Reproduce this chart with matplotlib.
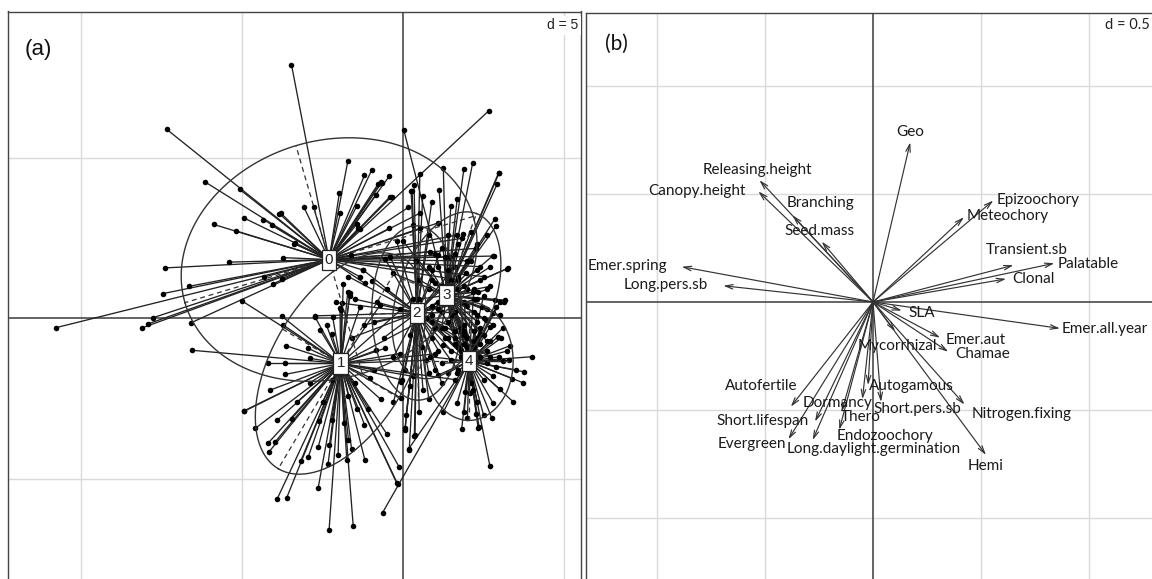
import matplotlib
matplotlib.use("Agg")
import matplotlib.pyplot as plt
import numpy as np
from matplotlib.collections import LineCollection

# ---------------- data: panel (a) ----------------
group_labels = ["0", "1", "2", "3", "4"]
group_centers = [(-2.30, 1.83), (-1.94, -1.40), (0.43, 0.17), (1.35, 0.72), (2.05, -1.33)]

g0_pts = [(-3.47, 7.89), (-7.35, 5.88), (-6.15, 4.24), (-5.08, 4.01), (-5.88, 2.92), (-5.19, 2.72),
          (-4.94, 3.12), (-4.34, 3.07), (-4.08, 2.89), (-3.85, 3.26), (-3.39, 2.32), (-3.73, 1.89),
          (-5.42, 1.75), (-7.41, 1.57), (-6.64, 1.00), (-7.47, 0.77), (-10.80, -0.29), (-8.10, -0.29),
          (-7.93, -0.17), (-7.78, 0.02), (-6.58, -0.13), (-4.31, 1.29), (-4.04, 1.08), (-3.08, 3.45),
          (-2.78, 3.45), (-1.72, 4.88), (-1.98, 3.90), (-1.95, 3.27), (-1.20, 4.45), (-0.98, 4.60),
          (-0.77, 4.19), (-0.69, 4.25), (-0.43, 4.42), (-0.83, 3.85), (-0.40, 3.79), (-1.43, 2.95),
          (-1.35, 2.78), (2.82, 1.94), (2.67, 6.46), (-3.36, 2.33), (-3.77, 1.24), (-3.80, 3.27),
          (-1.44, 3.49), (-1.24, 1.50), (-1.34, 1.29), (-1.19, 1.09), (-1.39, 2.80), (-0.43, 2.80),
          (-1.63, 1.97), (-0.36, 3.78), (-0.67, 4.22), (0.16, 3.45), (0.52, 3.27), (1.09, 2.97),
          (1.66, 2.59), (1.82, 2.49), (0.52, 2.80), (0.83, 2.07), (1.09, 1.97), (2.28, 2.18),
          (2.12, 1.79), (2.39, 1.61), (1.45, 1.92), (0.90, 1.50), (1.70, 1.20), (2.50, 1.30)]

g1_pts = [(-2.30, -6.57), (-1.55, -6.46), (-3.91, -5.60), (-3.62, -5.58), (-2.64, -5.27), (-0.20, -5.11),
          (-0.12, -4.62), (-1.19, -4.39), (-1.75, -4.39), (-2.02, -4.25), (-2.33, -4.51), (-1.60, -4.07),
          (-1.70, -3.77), (-1.84, -3.25), (-2.22, -3.16), (-2.29, -3.94), (-2.64, -4.00), (-2.95, -4.31),
          (-3.18, -4.43), (-3.46, -3.11), (-3.91, -3.16), (-4.19, -3.87), (-4.17, -4.15), (-3.98, -3.84),
          (-4.60, -3.42), (-4.14, -2.23), (-4.93, -2.88), (-3.64, -0.85), (-3.72, -0.21), (-3.77, 0.07),
          (-4.19, -1.40), (-3.67, -1.74), (-3.67, -1.40), (-2.89, -1.24), (-2.95, -0.93), (-2.74, 0.05),
          (-0.70, -2.51), (-1.08, -2.80), (-1.03, -1.84), (-1.44, -2.80), (-0.07, -2.47), (-0.02, -1.92),
          (-0.10, -1.09), (-0.57, -0.93), (-0.84, -0.99), (-6.55, -0.99), (-5.00, 0.54), (-4.94, -2.87),
          (-0.17, -5.15), (-2.38, -0.21), (-2.22, -0.47), (-2.58, -0.36), (-1.96, 0.31), (-1.34, 0.36),
          (-0.72, 0.41), (-1.91, 0.47), (-1.94, 0.26), (-2.19, 0.05), (-1.86, 1.07), (-1.65, 0.78),
          (-1.72, 0.83), (-1.66, 0.71), (0.90, 0.10), (0.30, 0.60), (1.00, -1.10), (0.70, -1.30),
          (1.60, -1.90), (-2.50, -2.60), (-1.50, -2.00), (-2.90, -2.00), (-3.30, -2.60), (-1.20, -3.30),
          (-0.50, -3.60), (0.30, -1.80), (-0.90, -1.60), (-2.20, -1.90), (-1.70, -2.40), (-2.60, -3.20)]

g2_pts = [(0.52, 4.50), (0.34, 4.16), (0.25, 3.95), (0.28, 3.97), (0.61, 3.81), (0.89, 3.63),
          (-0.57, 1.86), (-1.26, 1.52), (-0.98, 1.17), (-2.75, 0.08), (0.06, -3.48), (0.35, -3.65),
          (0.37, -3.63), (0.06, -3.42), (0.19, -4.08), (0.06, -1.59), (0.62, -2.23), (-0.05, -1.97),
          (-0.50, 0.90), (-0.80, 0.50), (-1.20, -0.20), (-0.60, -0.60), (-0.30, -1.20), (0.20, -2.10),
          (0.80, -2.50), (1.00, -1.60), (1.50, -1.00), (1.90, -0.40), (2.20, 0.20), (2.00, 0.90),
          (1.60, 1.60), (1.20, 2.20), (0.80, 2.60), (0.30, 2.90), (-0.20, 2.40), (-0.40, 1.90),
          (1.30, -0.30), (1.10, 0.50), (0.90, 1.20), (-0.10, 0.30), (-0.90, -0.10), (-1.50, 0.60),
          (-1.60, -0.60), (0.60, -0.90), (0.20, -0.50), (-1.70, 1.30), (-2.10, 0.50), (1.70, -1.60),
          (2.40, -0.80), (1.20, 1.00), (1.50, 1.20), (1.80, 0.50), (2.30, 0.60), (2.60, 0.90),
          (1.40, -0.60), (1.10, -1.00), (2.00, -0.90), (2.70, -1.20), (0.80, -1.70), (1.20, -2.00),
          (-0.30, -2.60), (0.10, -3.00), (0.50, -2.90)]

g3_pts = [(2.16, 4.82), (1.89, 4.65), (1.25, 4.69), (2.98, 4.51), (2.92, 4.17), (1.68, 3.71),
          (1.48, 3.49), (2.85, 3.09), (2.90, 2.88), (2.78, 1.94), (3.26, 1.56), (2.30, 2.31),
          (1.12, 3.99), (1.87, 2.64), (3.16, 0.57), (3.13, 0.52), (2.33, 0.83), (2.16, 0.81),
          (2.44, 0.36), (2.85, 0.57), (1.97, 1.40), (0.02, 5.86), (3.24, 1.55), (2.97, 4.53),
          (0.50, 1.20), (0.80, 1.60), (1.00, 2.00), (1.60, 2.00), (2.00, 1.80), (2.40, 1.20),
          (2.60, 0.30), (2.30, -0.10), (1.90, -0.50), (1.60, -0.80), (1.20, -0.30), (0.70, 0.00),
          (0.50, 0.60), (1.00, 1.10), (1.70, 1.30), (2.50, -0.50), (2.80, -0.20), (3.00, 0.10),
          (2.20, -0.90), (1.80, -1.20), (0.90, -0.60), (0.40, 1.80), (1.40, 2.60), (2.60, 2.60),
          (0.00, 2.40), (-0.30, 1.40), (1.50, 0.10), (2.00, 0.40), (1.10, 0.30), (2.70, 1.00),
          (1.80, -0.30), (2.00, -0.60), (2.20, -0.40), (1.70, -0.90), (2.10, -1.10), (2.40, -1.20),
          (2.30, -0.60), (1.90, -0.80), (2.60, -0.70), (2.00, -1.40), (1.60, -0.40), (2.50, 0.00),
          (2.20, 0.60), (1.90, 1.00), (1.40, 1.50), (1.10, 1.60), (0.80, 0.90), (0.90, 0.40),
          (2.30, 1.50), (2.70, 1.60), (1.30, 1.90), (1.70, 2.30), (2.10, 2.70)]

g4_pts = [(4.02, -1.19), (3.75, -1.66), (3.73, -2.00), (3.42, -2.59), (2.75, -3.08), (2.33, -3.40),
          (1.82, -3.45), (1.68, -2.63), (1.25, -2.91), (2.70, -4.60), (-0.64, -6.04), (0.17, -4.06),
          (3.11, -1.33), (3.32, -0.85), (2.95, -0.57), (2.28, -2.96), (2.80, -2.64), (1.66, -1.69),
          (1.40, -1.69), (1.09, -1.76), (1.92, -2.28), (2.07, -2.31), (2.18, -2.23), (1.20, -1.40),
          (0.83, -1.19), (1.25, -0.83), (2.39, -0.47), (2.70, -0.26), (2.59, -0.05), (2.80, 0.16),
          (2.90, 0.36), (3.01, 0.52), (3.39, -1.87), (3.24, -1.01), (2.99, -1.19), (3.05, -0.61),
          (2.36, -3.37), (1.60, -0.60), (1.90, -0.20), (2.30, 0.10), (1.40, -0.10), (1.00, -0.30),
          (2.60, -1.00), (2.90, -1.50), (2.50, -1.90), (2.10, -2.00), (1.80, -1.00), (1.50, -1.30),
          (2.20, -0.70), (2.60, -1.40), (1.60, 0.20), (1.90, 0.50), (2.20, 0.90), (1.50, 0.60),
          (1.20, 0.20), (0.90, -0.10), (1.70, 0.90), (2.50, 0.70), (1.30, -0.60), (1.80, -0.40),
          (2.40, -0.30), (2.70, -0.70), (3.10, -0.30), (3.30, -1.30), (3.50, -1.60), (2.80, -1.80),
          (2.30, -2.60), (1.90, -2.90), (2.00, -3.10), (2.50, -3.00), (3.00, -2.20)]

group_points = [g0_pts, g1_pts, g2_pts, g3_pts, g4_pts]

# ellipse half-axis vectors
ell_axis1 = [(-4.48, -1.34), (-1.94, -3.27), (0.05, -2.71), (0.93, 2.54), (0.00, -1.84)]
ell_axis2 = [(-1.03, 3.54), (1.81, -1.07), (1.40, 0.03), (1.41, -0.52), (1.37, 0.00)]

# ---------------- data: panel (b) ----------------
trait_names = ["Geo", "Releasing.height", "Canopy.height", "Branching", "Seed.mass",
               "Emer.spring", "Long.pers.sb", "Epizoochory", "Meteochory", "Transient.sb",
               "Palatable", "Clonal", "SLA", "Emer.all.year", "Emer.aut", "Chamae",
               "Mycorrhizal", "Autofertile", "Autogamous", "Dormancy", "Short.pers.sb",
               "Nitrogen.fixing", "Short.lifespan", "Thero", "Endozoochory", "Evergreen",
               "Long.daylight.germination", "Hemi"]
trait_x = [0.172, -0.525, -0.530, -0.372, -0.237, -0.884, -0.692, 0.556, 0.420, 0.649,
           0.838, 0.615, 0.133, 0.864, 0.310, 0.348, 0.102, -0.380, -0.023, -0.049,
           0.037, 0.423, -0.268, -0.145, -0.156, -0.391, -0.279, 0.522]
trait_y = [0.738, 0.563, 0.511, 0.400, 0.279, 0.163, 0.075, 0.469, 0.392, 0.170,
           0.179, 0.107, -0.040, -0.122, -0.165, -0.230, -0.135, -0.484, -0.384, -0.449,
           -0.462, -0.474, -0.553, -0.507, -0.591, -0.635, -0.638, -0.707]

# label offsets from arrow tips (pixels, layout only)
label_offsets = {
    "Geo": (0, 10.4), "Releasing.height": (-1.6, 10.4), "Canopy.height": (-61, 0.8),
    "Branching": (28.3, 12.8), "Seed.mass": (-1.8, 10.3), "Emer.spring": (-53.9, 0.8),
    "Long.pers.sb": (-57.9, 0.6), "Epizoochory": (44.6, 0.7), "Meteochory": (44, 1.1),
    "Transient.sb": (13.5, 15.5), "Palatable": (33.4, -0.7), "Clonal": (26.9, -0.4),
    "SLA": (20.3, -2.1), "Emer.all.year": (45, -0.7), "Emer.aut": (35.5, -2.3),
    "Chamae": (34.8, -2.4), "Mycorrhizal": (2.4, -14.4), "Autofertile": (-29.7, 20.4),
    "Autogamous": (43.6, -1.3), "Dormancy": (-24.6, -3.7), "Short.pers.sb": (36.1, -7.5),
    "Nitrogen.fixing": (56.6, -9.1), "Short.lifespan": (-52.6, 0.4), "Thero": (19.2, -5.6),
    "Endozoochory": (45.9, -5.7), "Evergreen": (-36.8, -4.9),
    "Long.daylight.germination": (60.8, -9), "Hemi": (0, -10.7),
}

# ---------------- figure ----------------
W, H = 1152, 579
fig = plt.figure(figsize=(W / 100, H / 100), dpi=100)
fig.patch.set_facecolor("white")


def px_axes(left, top, w, h):
    return fig.add_axes([left / W, (H - top - h) / H, w / W, h / H])


GRID_C = "#d9d9d9"
AX_C = "#3a3a3a"


def base(ax, xlim, ylim, ticks_x, ticks_y):
    ax.set_xlim(*xlim)
    ax.set_ylim(*ylim)
    ax.set_xticks([])
    ax.set_yticks([])
    for s in ax.spines.values():
        s.set_color("#444444")
        s.set_linewidth(1.0)
    for tk in ticks_x:
        if tk != 0:
            ax.axvline(tk, color=GRID_C, lw=1.0, zorder=0)
    for tk in ticks_y:
        if tk != 0:
            ax.axhline(tk, color=GRID_C, lw=1.0, zorder=0)
    ax.axvline(0, color=AX_C, lw=1.1, zorder=1)
    ax.axhline(0, color=AX_C, lw=1.1, zorder=1)


# ---- panel (a)
axA = px_axes(8, 11.5, 572.7, 572.7)
base(axA, (-12.28, 5.52), (-8.26, 9.54), [-10, -5, 0, 5], [-5, 0, 5])

segs = []
for (cx, cy), pts in zip(group_centers, group_points):
    for (px, py) in pts:
        segs.append([(px, py), (cx, cy)])
axA.add_collection(LineCollection(segs, colors="#222222", linewidths=0.95, zorder=2))
for pts in group_points:
    arr = np.array(pts)
    axA.plot(arr[:, 0], arr[:, 1], "o", color="black", ms=4.0, mew=0, zorder=3)

t = np.linspace(0, 2 * np.pi, 200)
for (cx, cy), a, b in zip(group_centers, ell_axis1, ell_axis2):
    ex = cx + a[0] * np.cos(t) + b[0] * np.sin(t)
    ey = cy + a[1] * np.cos(t) + b[1] * np.sin(t)
    axA.plot(ex, ey, color="#333333", lw=1.0, zorder=4)
    axA.plot([cx - a[0], cx + a[0]], [cy - a[1], cy + a[1]], color="#333333", lw=0.9,
             ls=(0, (4, 3)), zorder=4)
    axA.plot([cx - b[0], cx + b[0]], [cy - b[1], cy + b[1]], color="#333333", lw=0.9,
             ls=(0, (4, 3)), zorder=4)

for (cx, cy), lab in zip(group_centers, group_labels):
    axA.text(cx, cy, lab, ha="center", va="center", fontsize=11, family="Liberation Sans",
             color="#222222", zorder=6,
             bbox=dict(boxstyle="square,pad=0.2", fc="white", ec="#222222", lw=0.9))

axA.text(0.996, 0.988, "d = 5", transform=axA.transAxes, ha="right", va="top", fontsize=10,
         family="Liberation Sans", color="#222222", zorder=7,
         bbox=dict(boxstyle="square,pad=0.2", fc="white", ec="none"))
fig.text(25 / W, 1 - 50 / H, "(a)", ha="left", va="center", fontsize=16, family="Liberation Sans",
         color="#111111")

# ---- panel (b)
axB = px_axes(585.7, 12.5, 572.7, 572.7)
base(axB, (-1.328, 1.319), (-1.309, 1.338), [-1, -0.5, 0, 0.5, 1], [-1, -0.5, 0, 0.5, 1])

for name, x, y in zip(trait_names, trait_x, trait_y):
    axB.annotate("", xy=(x, y), xytext=(0, 0),
                 arrowprops=dict(arrowstyle="->,head_length=0.55,head_width=0.16",
                                 color="#333333", lw=0.85, shrinkA=0, shrinkB=0),
                 zorder=3)
for name, x, y in zip(trait_names, trait_x, trait_y):
    dx, dy = label_offsets[name]
    axB.annotate(name, xy=(x, y), xytext=(dx, dy), textcoords="offset pixels",
                 ha="center", va="center", fontsize=11, family="Lato", color="#1a1a1a",
                 zorder=5)

fig.text(1150 / W, 1 - 18 / H, "d = 0.5", ha="right", va="top", fontsize=10.5,
         family="Lato", color="#222222", zorder=7,
         bbox=dict(boxstyle="square,pad=0.1", fc="white", ec="none"))
fig.text(605.5 / W, 1 - 43.5 / H, "(b)", ha="left", va="center", fontsize=15, family="Lato",
         color="#111111")

fig.savefig("out.png", dpi=100)
